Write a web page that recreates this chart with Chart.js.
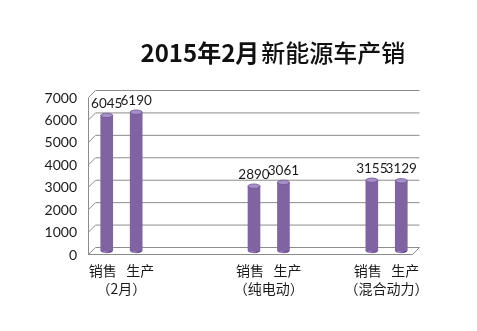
<!DOCTYPE html>
<html>
<head>
<meta charset="utf-8">
<script src="https://cdn.jsdelivr.net/npm/chart.js@4/dist/chart.umd.min.js"></script>
<style>
  html, body { margin: 0; padding: 0; background: #fff; }
  #wrap { width: 477px; height: 331px; }
</style>
</head>
<body>
<div id="wrap"><canvas id="nevChart"></canvas></div>
<script>
// data
var titleBold = "2015年2月";
var titleRest = "新能源车产销";
var groupNames = ["（2月）", "（纯电动）", "（混合动力）"];
var seriesNames = ["销售", "生产"];
var salesValues = [6045, 2890, 3155];
var productionValues = [6190, 3061, 3129];
var yTicks = [0, 1000, 2000, 3000, 4000, 5000, 6000, 7000];

// empty slots between the groups (layout only)
var gapAfter = [3, 2, 0];

// build the slot list: sales, production, then blank slots
var slotLabels = [];
var slotValues = [];
for (let i = 0; i < groupNames.length; i++) {
    slotLabels.push([seriesNames[0] + "   " + seriesNames[1], groupNames[i]]);
    slotValues.push(salesValues[i]);
    slotLabels.push("");
    slotValues.push(productionValues[i]);
    for (let g = 0; g < gapAfter[i]; g++) {
        slotLabels.push("");
        slotValues.push(null);
    }
}

const DEPTH = 3.5;     // fake 3d offset
const GRID = "#8c8c8c";

// back wall, side edge and floor
const wallPlugin = {
    id: "wall3d",
    beforeDatasetsDraw(chart) {
        const ctx = chart.ctx, a = chart.chartArea, y = chart.scales.y;
        ctx.save();
        ctx.strokeStyle = GRID;
        ctx.lineWidth = 1;
        yTicks.forEach(function (v) {
            const py = y.getPixelForValue(v);
            ctx.beginPath();
            ctx.moveTo(a.left - DEPTH, py + DEPTH);
            ctx.lineTo(a.left + DEPTH, py - DEPTH);
            ctx.lineTo(a.right + DEPTH, py - DEPTH);
            ctx.stroke();
        });
        const p0 = y.getPixelForValue(0), pTop = y.getPixelForValue(yTicks[yTicks.length - 1]);
        ctx.beginPath();
        ctx.moveTo(a.left - DEPTH, pTop + DEPTH);
        ctx.lineTo(a.left - DEPTH, p0 + DEPTH);
        ctx.lineTo(a.right - DEPTH, p0 + DEPTH);
        ctx.lineTo(a.right + DEPTH, p0 - DEPTH);
        ctx.stroke();
        ctx.restore();
    }
};

function barGradient(ctx, x, w) {
    const g = ctx.createLinearGradient(x - w / 2, 0, x + w / 2, 0);
    g.addColorStop(0, "#5a4480");
    g.addColorStop(0.3, "#9a80c2");
    g.addColorStop(0.55, "#8266a8");
    g.addColorStop(1, "#4e3a70");
    return g;
}

// cylinder ends + value labels
const cylinderPlugin = {
    id: "cylinder",
    afterDatasetsDraw(chart) {
        const ctx = chart.ctx;
        const meta = chart.getDatasetMeta(0);
        ctx.save();
        meta.data.forEach(function (bar, i) {
            if (slotValues[i] == null) return;
            const w = bar.width, rx = w / 2, ry = 2.2;
            // bottom cap
            ctx.fillStyle = barGradient(ctx, bar.x, w);
            ctx.beginPath();
            ctx.ellipse(bar.x, bar.base, rx, ry, 0, 0, Math.PI);
            ctx.fill();
            // top cap
            ctx.fillStyle = "#a690c8";
            ctx.strokeStyle = "#6c5494";
            ctx.lineWidth = 0.8;
            ctx.beginPath();
            ctx.ellipse(bar.x, bar.y, rx, ry, 0, 0, Math.PI * 2);
            ctx.fill();
            ctx.stroke();
            // value
            ctx.fillStyle = "#1a1a1a";
            ctx.font = "13.5px Lato";
            ctx.textAlign = "center";
            ctx.textBaseline = "middle";
            ctx.fillText(String(slotValues[i]), bar.x, bar.y - 12);
        });
        ctx.restore();
    }
};

// title sits a bit right of centre in the original; digits bold, rest lighter
const titlePlugin = {
    id: "offsetTitle",
    afterDraw(chart) {
        const ctx = chart.ctx;
        ctx.save();
        ctx.fillStyle = "#111";
        ctx.textBaseline = "middle";
        ctx.textAlign = "left";
        const fBold = "bold 24px 'Noto Sans CJK SC'";
        const fRest = "500 24px 'Noto Sans CJK SC'";
        ctx.font = fBold;
        const w1 = ctx.measureText(titleBold).width;
        ctx.font = fRest;
        const w2 = ctx.measureText(titleRest).width;
        let x = chart.width * 0.57 - (w1 + w2) / 2;
        ctx.font = fBold;
        ctx.fillText(titleBold, x, 53);
        ctx.font = fRest;
        ctx.fillText(titleRest, x + w1 + 2, 53);
        ctx.restore();
    }
};

var nevCanvas = document.getElementById("nevChart");
var nevChart = new Chart(nevCanvas, {
    type: "bar",
    data: {
        labels: slotLabels,
        datasets: [{
            data: slotValues,
            backgroundColor: function (c) {
                const meta = c.chart.getDatasetMeta(0);
                const bar = meta.data[c.dataIndex];
                if (!c.chart.chartArea || !bar || !bar.width) return "#8064a2";
                return barGradient(c.chart.ctx, bar.x, bar.width);
            },
            barThickness: 12
        }]
    },
    options: {
        responsive: true,
        maintainAspectRatio: false,
        animation: false,
        layout: { padding: { left: 0, right: 61, top: 94, bottom: 0 } },
        plugins: {
            legend: { display: false },
            tooltip: { enabled: false },
            title: { display: false }
        },
        scales: {
            x: {
                grid: { display: false, drawTicks: false },
                border: { display: false },
                ticks: {
                    autoSkip: false,
                    maxRotation: 0,
                    minRotation: 0,
                    labelOffset: 14.7,
                    padding: 11,
                    color: "#1a1a1a",
                    font: { family: "'Noto Sans CJK SC'", size: 14, lineHeight: 1.25 }
                },
                afterFit: function (s) { s.height = 80; }
            },
            y: {
                min: 0,
                max: 7000,
                grid: { display: false, drawTicks: false },
                border: { display: false },
                ticks: {
                    stepSize: 1000,
                    padding: 15,
                    labelOffset: 4,
                    color: "#1a1a1a",
                    font: { family: "Lato", size: 14 },
                    callback: function (v) { return String(v); }
                },
                afterFit: function (s) { s.width = 92; }
            }
        }
    },
    plugins: [wallPlugin, cylinderPlugin, titlePlugin]
});
</script>
</body>
</html>
